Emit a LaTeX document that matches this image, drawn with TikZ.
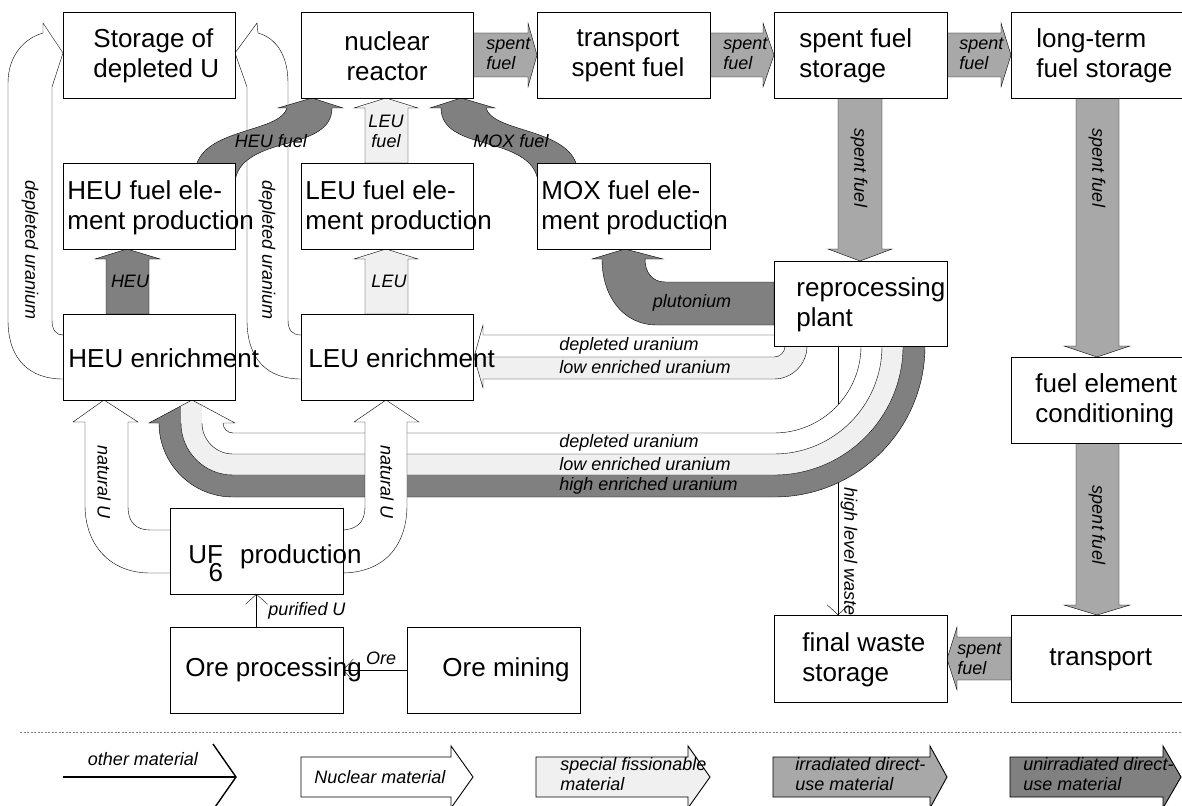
\documentclass[tikz,border=0pt]{standalone}
\usepackage{fontspec}
\setmainfont{Liberation Sans}
\usetikzlibrary{arrows.meta}
\pgfdeclarelayer{bg}
\pgfsetlayers{bg,main}
\definecolor{dk}{gray}{0.5}
\definecolor{md}{gray}{0.66}
\definecolor{lt}{gray}{0.94}
\tikzset{
 box/.style={draw, fill=white, inner sep=0pt, outer sep=0pt},
 btxt/.style={font=\fontsize{26}{30}\selectfont, align=left, anchor=west, inner sep=0pt},
 lbl/.style={font=\itshape\fontsize{18}{20}\selectfont, inner sep=0pt},
 blk/.style={draw, line join=miter},
 thinarrow/.style={-{Straight Barb[length=10pt,width=22pt]}},
 bandf/.style 2 args={insert path={({774+#1},346) .. controls ({774+#1},{346+0.5523*#1}) and ({774+0.5523*#1},{346+#1}) .. (774,{346+#1}) -- (233,{423+#2}) .. controls ({233-0.5523*#2},{423+#2}) and ({233-#2},{423+0.5523*#2}) .. ({233-#2},423)}},
 bandr/.style 2 args={insert path={-- ({233-#2},423) .. controls ({233-#2},{423+0.5523*#2}) and ({233-0.5523*#2},{423+#2}) .. (233,{423+#2}) -- (774,{346+#1}) .. controls ({774+0.5523*#1},{346+#1}) and ({774+#1},{346+0.5523*#1}) .. ({774+#1},346)}},
}
\begin{document}
\begin{tikzpicture}[x=1pt,y=-1pt,line width=0.9pt]
\useasboundingbox (0,0) rectangle (1182,805);

% ---------- boxes ----------
\node[box, minimum width=172pt, minimum height=86pt] (stor) at (149,55) {};
\node[box, minimum width=172pt, minimum height=86pt] (reac) at (387,55) {};
\node[box, minimum width=173pt, minimum height=86pt] (tsf) at (623.5,55) {};
\node[box, minimum width=173pt, minimum height=86pt] (sfs) at (860.5,55) {};
\node[box, minimum width=179pt, minimum height=86pt] (lts) at (1100.5,55) {};
\node[box, minimum width=172pt, minimum height=86pt] (heuf) at (149,206) {};
\node[box, minimum width=172pt, minimum height=86pt] (leuf) at (387,206) {};
\node[box, minimum width=173pt, minimum height=86pt] (moxf) at (623.5,206) {};
\node[box, minimum width=173pt, minimum height=85pt] (repr) at (860.5,303.5) {};
\node[box, minimum width=172pt, minimum height=86pt] (heue) at (149,357) {};
\node[box, minimum width=172pt, minimum height=86pt] (leue) at (387,357) {};
\node[box, minimum width=173pt, minimum height=86pt] (uf6) at (256.5,551) {};
\node[box, minimum width=173pt, minimum height=86pt] (orep) at (256.5,670) {};
\node[box, minimum width=173pt, minimum height=86pt] (orem) at (493.5,670) {};
\node[box, minimum width=173pt, minimum height=87pt] (fws) at (860.5,658.5) {};
\node[box, minimum width=179pt, minimum height=87pt] (trn) at (1100.5,658.5) {};
\node[box, minimum width=179pt, minimum height=86pt] (fec) at (1100.5,400) {};

% ---------- box texts ----------
\node[btxt] (tstor) at (93,56) {Storage of\\depleted U};
\node[btxt, align=center, anchor=center] (treac) at (387,56) {nuclear\\reactor};
\node[btxt, align=center, anchor=center] (ttsf) at (628,56) {transport\\spent fuel};
\node[btxt] (tsfs) at (799,56) {spent fuel\\storage};
\node[btxt] (tlts) at (1036,56) {long-term\\fuel storage};
\node[btxt] (theuf) at (67,208) {HEU fuel ele-\\ment production};
\node[btxt] (tleuf) at (305,208) {LEU fuel ele-\\ment production};
\node[btxt] (tmoxf) at (541,208) {MOX fuel ele-\\ment production};
\node[btxt] (trepr) at (796,305) {reprocessing\\plant};
\node[btxt] (theue) at (68,358) {HEU enrichment};
\node[btxt] (tleue) at (308,358) {LEU enrichment};
\node[font=\fontsize{26}{30}\selectfont, inner sep=0pt, anchor=base west] (tuf6) at (188,563) {UF\llap{\raisebox{-18pt}{6}}\hspace{17pt}production};
\node[btxt] (torep) at (185,670) {Ore processing};
\node[btxt] (torem) at (442,670) {Ore mining};
\node[btxt] (tfws) at (802,660) {final waste\\storage};
\node[btxt] (ttrn) at (1049,660) {transport};
\node[btxt] (tfec) at (1035,401) {fuel element\\conditioning};

% ---------- labels ----------
\node[lbl, align=left, anchor=west] (l1) at (486,54) {spent\\fuel};
\node[lbl, align=left, anchor=west] (l2) at (723,54) {spent\\fuel};
\node[lbl, align=left, anchor=west] (l3) at (959,54) {spent\\fuel};
\node[lbl, align=left, anchor=west] (l4) at (957,659) {spent\\fuel};
\node[lbl, rotate=-90] (l5) at (859,168) {spent fuel};
\node[lbl, rotate=-90] (l6) at (1097,168) {spent fuel};
\node[lbl, rotate=-90] (l7) at (1097,525) {spent fuel};
\node[lbl, rotate=-90] (l8) at (30,250) {depleted uranium};
\node[lbl, rotate=-90] (l9) at (267,250) {depleted uranium};
\node[lbl, rotate=-90] (l10) at (104,482) {natural U};
\node[lbl, rotate=-90] (l11) at (387,482) {natural U};
\node[lbl, rotate=-90] (l12) at (849,552) {high level waste};
\node[lbl] (l13) at (130,281) {HEU};
\node[lbl] (l14) at (389,281) {LEU};
\node[lbl, align=center] (l15) at (386,131) {LEU\\fuel};
\node[lbl] (l16) at (271,141) {HEU fuel};
\node[lbl] (l17) at (511,141) {MOX fuel};
\node[lbl] (l18) at (692,303) {plutonium};
\node[lbl] (l19) at (307,611) {purified U};
\node[lbl] (l20) at (381,658) {Ore};
\node[lbl, anchor=west] (l21) at (559,346) {depleted uranium};
\node[lbl, anchor=west] (l22) at (559,367) {low enriched uranium};
\node[lbl, anchor=west] (l23) at (559,443) {depleted uranium};
\node[lbl, anchor=west] (l24) at (559,464) {low enriched uranium};
\node[lbl, anchor=west] (l25) at (559,486) {high enriched uranium};

% ---------- legend ----------
\draw[gray, dash pattern=on 2pt off 1.5pt, line width=0.6pt] (20,732) -- (1182,732);
\draw[line width=1.4pt] (63,777) -- (236,777);
\draw[line width=1.4pt] (213,744) -- (236,777) -- (213,810);
\path[blk, fill=white] (301,757) -- (451,757) -- (451,746) -- (473,777) -- (451,808) -- (451,797) -- (301,797) -- cycle;
\path[blk, fill=lt] (536,757) -- (688,757) -- (688,746) -- (710,777) -- (688,808) -- (688,797) -- (536,797) -- cycle;
\path[blk, fill=md] (773,757) -- (930,757) -- (930,746) -- (947,777) -- (930,808) -- (930,797) -- (773,797) -- cycle;
\path[blk, fill=dk] (1010,757) -- (1163,757) -- (1163,746) -- (1181,777) -- (1163,808) -- (1163,797) -- (1010,797) -- cycle;
\node[lbl] (lg1) at (143,759) {other material};
\node[lbl] (lg2) at (380,777) {Nuclear material};
\node[lbl, align=left, anchor=west] (lg3) at (560,774) {special fissionable\\material};
\node[lbl, align=left, anchor=west] (lg4) at (795,774) {irradiated direct-\\use material};
\node[lbl, align=left, anchor=west] (lg5) at (1023,774) {unirradiated direct-\\use material};

\begin{pgfonlayer}{bg}
% high level waste line (under bands)
\draw[thinarrow] ([xshift=-22.5pt]repr.south) -- ([xshift=-22.5pt]fws.north);

% big three-band arrow
\fill[white] [bandf={151}{74}] -- (149,423) -- (192,400) -- (235,423) [bandr={87}{10}] -- cycle;
\fill[dk] [bandf={151}{74}] [bandr={129}{52}] -- cycle;
\fill[lt] [bandf={129}{52}] [bandr={108}{31}] -- cycle;
\begin{scope}
\clip (149,423) -- (192,400) -- (235,423) -- cycle;
\fill[dk] (140,390) rectangle (181,424);
\fill[lt] (181,390) rectangle (202,424);
\end{scope}
\draw[line join=miter] [bandf={151}{74}] -- (149,423) -- (192,400) -- (235,423) [bandr={87}{10}];
\draw [bandf={129}{52}];
\draw [bandf={108}{31}];

% LEU pair from reprocessing
\fill[white] (774,335) -- (483,335) -- (483,325) -- (474,357) -- (483,388) -- (483,379) -- (774,379) .. controls (792.2,379) and (807,364.2) .. (807,346) -- (774,346) -- cycle;
\fill[lt] (785,346) .. controls (785,352.1) and (780.1,357) .. (774,357) -- (474,357) -- (483,388) -- (483,379) -- (774,379) .. controls (792.2,379) and (807,364.2) .. (807,346) -- cycle;
\draw[line join=miter] (774,335) -- (483,335) -- (483,325) -- (474,357) -- (483,388) -- (483,379) -- (774,379) .. controls (792.2,379) and (807,364.2) .. (807,346);
\draw (785,346) .. controls (785,352.1) and (780.1,357) .. (774,357) -- (483,357);

% plutonium
\path[blk, fill=dk] (774,325) -- (657,325) .. controls (622,325) and (602,295) .. (602,259) -- (592,259) -- (625,249) -- (663,259) -- (645,259) .. controls (645,272) and (652,282) .. (665,282) -- (774,282) -- cycle;

% natural U arrows
\path[blk, fill=white] (172,573) -- (150,573) .. controls (110,573) and (85,545) .. (85,505) -- (85,422) -- (73,422) -- (104,400) -- (138,422) -- (128,422) -- (128,507) .. controls (128,522) and (136,530) .. (150,530) -- (172,530);
\path[blk, fill=white] (341,573) .. controls (385,573) and (407,545) .. (407,505) -- (407,422) -- (419,422) -- (386,400) -- (354,422) -- (365,422) -- (365,507) .. controls (365,522) and (357,530) .. (341,530);

% depleted uranium arrows
\path[blk, fill=white] (65,379) -- (63,379) .. controls (30,379) and (8,360) .. (8,320) -- (8,83) .. controls (8,55) and (25,38) .. (43,33) -- (43,23) -- (63,53) -- (52,87) -- (52,320) .. controls (52,330) and (56,335) .. (63,335) -- (65,335);
\path[blk, fill=white] (299,379) -- (301,379) .. controls (268,379) and (247,360) .. (247,320) -- (247,87) -- (235,53) -- (257,23) -- (258,33) .. controls (276,38) and (288,55) .. (288,83) -- (288,320) .. controls (288,330) and (292,335) .. (301,335) -- (299,335);

% HEU / LEU straight arrows
\path[blk, fill=dk] (106,314) -- (106,259) -- (95,259) -- (127,249) -- (160,259) -- (149,259) -- (149,314) -- cycle;
\path[blk, fill=lt] (365,314) -- (365,259) -- (354,259) -- (386,249) -- (418,259) -- (408,259) -- (408,314) -- cycle;
\path[blk, fill=lt] (365,163) -- (365,108) -- (354,108) -- (386,98) -- (418,108) -- (408,108) -- (408,163) -- cycle;

% HEU fuel S-shape
\path[blk, fill=dk] (197,163) .. controls (210,128) and (280,132) .. (287,108) -- (278,108) -- (312,98) -- (343,108) -- (332,108) .. controls (332,130) and (310,137) .. (285,144) .. controls (255,152) and (237,162) .. (235,182) -- (235,190) -- (197,190) -- cycle;
% MOX fuel S-shape (mirror)
\begin{scope}[xshift=773pt, xscale=-1]
\path[blk, fill=dk] (197,163) .. controls (210,128) and (280,132) .. (287,108) -- (278,108) -- (312,98) -- (343,108) -- (332,108) .. controls (332,130) and (310,137) .. (285,144) .. controls (255,152) and (237,162) .. (235,182) -- (235,190) -- (197,190) -- cycle;
\end{scope}

% irradiated (spent fuel) arrows
\path[blk, fill=md] (473,33) -- (528,33) -- (528,23) -- (537,55) -- (528,87) -- (528,77) -- (473,77) -- cycle;
\path[blk, fill=md] (710,33) -- (763,33) -- (763,23) -- (774,55) -- (763,87) -- (763,77) -- (710,77) -- cycle;
\path[blk, fill=md] (947,33) -- (1001,33) -- (1001,23) -- (1011,55) -- (1001,87) -- (1001,77) -- (947,77) -- cycle;
\path[blk, fill=md] (838,98) -- (838,249) -- (828,249) -- (860,261) -- (892,249) -- (882,249) -- (882,98) -- cycle;
\path[blk, fill=md] (1076,98) -- (1076,346) -- (1064,346) -- (1097,357) -- (1130,346) -- (1119,346) -- (1119,98) -- cycle;
\path[blk, fill=md] (1076,443) -- (1076,605) -- (1064,605) -- (1097,615) -- (1130,605) -- (1119,605) -- (1119,443) -- cycle;
\path[blk, fill=md] (1011,637) -- (957,637) -- (957,627) -- (947,659) -- (957,690) -- (957,680) -- (1011,680) -- cycle;

% thin arrows
\draw[thinarrow] (orep.north) -- (uf6.south);
\draw[thinarrow] (orem.west) -- (orep.east);
\end{pgfonlayer}
\end{tikzpicture}
\end{document}
